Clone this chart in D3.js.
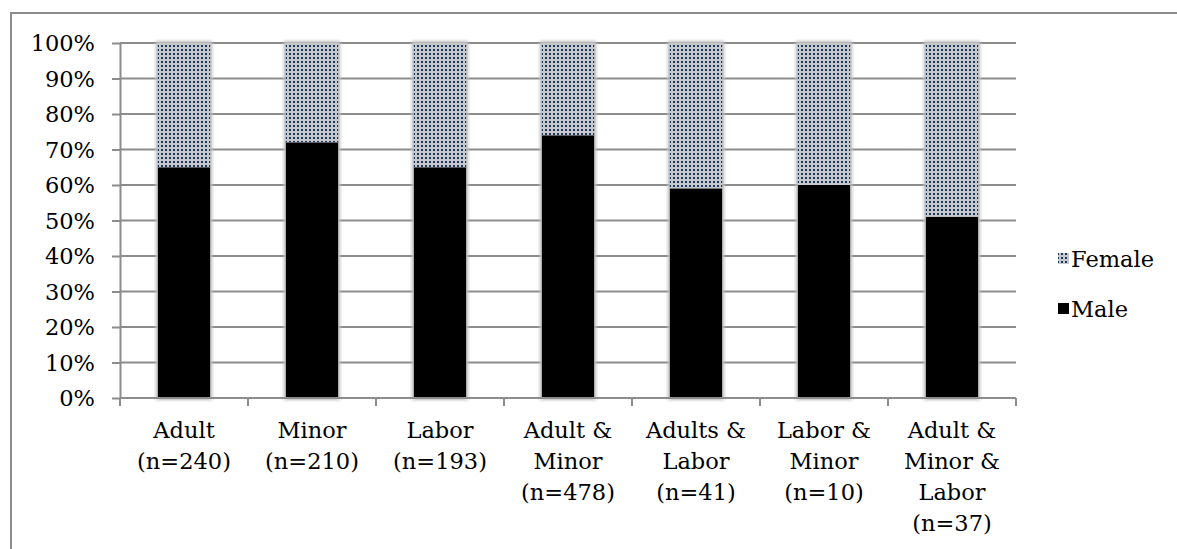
<!DOCTYPE html>
<html>
<head>
<meta charset="utf-8">
<script src="https://cdn.jsdelivr.net/npm/d3@7"></script>
<style>
  html, body { margin: 0; padding: 0; background: #fff; }
  svg text { font-family: "DejaVu Serif", "Liberation Serif", serif; fill: #000; }
</style>
</head>
<body>
<svg id="chart" width="1177" height="549"></svg>
<script>
// Gender share by trafficking type
const categories = [
  ["Adult", "(n=240)"],
  ["Minor", "(n=210)"],
  ["Labor", "(n=193)"],
  ["Adult &", "Minor", "(n=478)"],
  ["Adults &", "Labor", "(n=41)"],
  ["Labor &", "Minor", "(n=10)"],
  ["Adult &", "Minor &", "Labor", "(n=37)"]
];
const malePct = [65, 72, 65, 74, 59, 60, 51];
const femalePct = malePct.map(v => 100 - v);
const yTicks = [0, 10, 20, 30, 40, 50, 60, 70, 80, 90, 100];
const seriesNames = ["Female", "Male"];

const svg = d3.select("#chart");
const plotL = 120, plotR = 1016, plotT = 43, plotB = 398;
const axisColor = "#8c8c8c";
const fontSize = "22.5px";

// dotted fill for the Female segments
const defs = svg.append("defs");
const pat = defs.append("pattern")
  .attr("id", "dots").attr("patternUnits", "userSpaceOnUse")
  .attr("width", 4).attr("height", 4);
pat.append("rect").attr("width", 4).attr("height", 4).attr("fill", "#c5c8cc");
pat.append("rect").attr("x", 1).attr("y", 1).attr("width", 2).attr("height", 2).attr("fill", "#1d3761");

const halo = defs.append("filter").attr("id", "halo")
  .attr("x", "-30%").attr("y", "-10%").attr("width", "160%").attr("height", "120%");
halo.append("feMorphology").attr("in", "SourceAlpha").attr("operator", "dilate").attr("radius", 2).attr("result", "d");
halo.append("feGaussianBlur").attr("in", "d").attr("stdDeviation", 1.5).attr("result", "b");
halo.append("feFlood").attr("flood-color", "#bdbdbd").attr("result", "c");
halo.append("feComposite").attr("in", "c").attr("in2", "b").attr("operator", "in").attr("result", "s");
const mg = halo.append("feMerge");
mg.append("feMergeNode").attr("in", "s");
mg.append("feMergeNode").attr("in", "SourceGraphic");

// outer frame (left and top edges)
svg.append("path")
  .attr("d", "M11,549 V13 H1177")
  .attr("fill", "none").attr("stroke", axisColor).attr("stroke-width", 2);

const x = d3.scaleBand().domain(d3.range(categories.length)).range([plotL, plotR]).padding(0);
const y = d3.scaleLinear().domain([0, 100]).range([plotB, plotT]);
const barW = x.bandwidth() * 0.41;

// gridlines
svg.append("g").selectAll("line").data(yTicks.filter(t => t > 0)).join("line")
  .attr("x1", plotL).attr("x2", plotR)
  .attr("y1", d => y(d)).attr("y2", d => y(d))
  .attr("stroke", axisColor).attr("stroke-width", 2);

// stacked bars
const bars = svg.append("g");
categories.forEach((c, i) => {
  const cx = x(i) + x.bandwidth() / 2;
  const g = bars.append("g").attr("filter", "url(#halo)");
  g.append("rect")
    .attr("x", cx - barW / 2).attr("width", barW)
    .attr("y", y(100)).attr("height", y(malePct[i]) - y(100))
    .attr("fill", "url(#dots)");
  g.append("rect")
    .attr("x", cx - barW / 2).attr("width", barW)
    .attr("y", y(malePct[i])).attr("height", y(0) - y(malePct[i]))
    .attr("fill", "#000");
});

// y axis
const yAxis = svg.append("g").attr("transform", `translate(${plotL},0)`)
  .call(d3.axisLeft(y).tickValues(yTicks).tickSize(8).tickSizeOuter(0).tickFormat(d => d + "%"));
yAxis.select(".domain").attr("stroke", axisColor).attr("stroke-width", 2);
yAxis.selectAll(".tick line").attr("stroke", axisColor).attr("stroke-width", 2);
yAxis.selectAll(".tick text").attr("x", -25).attr("dy", "0.35em")
  .style("font-size", fontSize).attr("font-family", null);

// x axis baseline and category separators
const xAxis = svg.append("g").attr("transform", `translate(0,${plotB})`);
xAxis.append("line").attr("x1", plotL).attr("x2", plotR)
  .attr("stroke", axisColor).attr("stroke-width", 2);
xAxis.selectAll("line.sep").data(d3.range(categories.length + 1)).join("line")
  .attr("class", "sep")
  .attr("x1", i => plotL + i * x.step()).attr("x2", i => plotL + i * x.step())
  .attr("y1", 0).attr("y2", 8)
  .attr("stroke", axisColor).attr("stroke-width", 2);

// category labels
categories.forEach((lines, i) => {
  const t = svg.append("text")
    .attr("text-anchor", "middle")
    .attr("x", x(i) + x.bandwidth() / 2)
    .attr("y", 438)
    .style("font-size", fontSize);
  lines.forEach((ln, k) => {
    t.append("tspan").attr("x", x(i) + x.bandwidth() / 2).attr("dy", k === 0 ? 0 : 31).text(ln);
  });
});

// legend
const legend = svg.append("g");
const legendY = [259, 309];
seriesNames.forEach((name, k) => {
  legend.append("rect")
    .attr("x", 1058).attr("y", legendY[k] - 6).attr("width", 11).attr("height", 11)
    .attr("fill", name === "Female" ? "url(#dots)" : "#000");
  legend.append("text")
    .attr("x", 1071).attr("y", legendY[k]).attr("dy", "0.35em")
    .style("font-size", fontSize).text(name);
});
</script>
</body>
</html>
